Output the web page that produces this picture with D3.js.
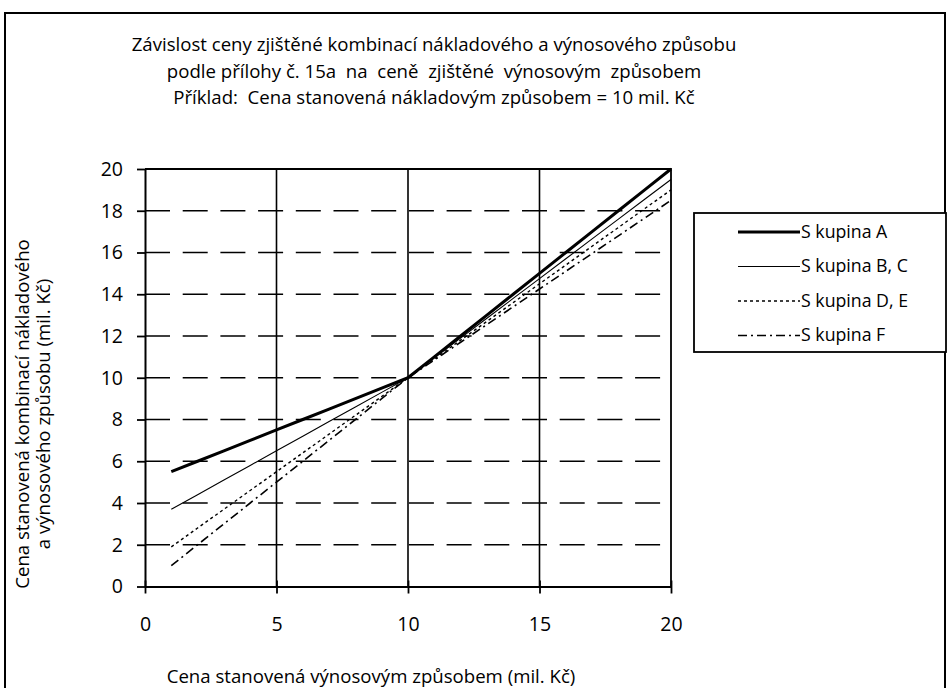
<!DOCTYPE html>
<html><head><meta charset="utf-8">
<script src="https://cdn.jsdelivr.net/npm/d3@7"></script>
<style>
html,body{margin:0;padding:0;background:#fff;}
svg{display:block;font-family:"Open Sans",Lato,sans-serif;}
svg text{white-space:pre;}
</style></head>
<body>
<svg id="c" width="947" height="688"></svg>
<script>
const titleLines = [
  "Závislost ceny zjištěné kombinací nákladového a výnosového způsobu",
  "podle přílohy č. 15a  na  ceně  zjištěné  výnosovým  způsobem",
  "Příklad:  Cena stanovená nákladovým způsobem = 10 mil. Kč"
];
const xLabel = "Cena stanovená výnosovým způsobem (mil. Kč)";
const yLabelLines = ["Cena stanovená kombinací nákladového", "a výnosového způsobu (mil. Kč)"];

const xValues = [1,2,3,4,5,6,7,8,9,10,11,12,13,14,15,16,17,18,19,20];
const seriesA  = [5.5,6.0,6.5,7.0,7.5,8.0,8.5,9.0,9.5,10,11,12,13,14,15,16,17,18,19,20];
const seriesBC = [3.7,4.4,5.1,5.8,6.5,7.2,7.9,8.6,9.3,10,10.95,11.9,12.85,13.8,14.75,15.7,16.65,17.6,18.55,19.5];
const seriesDE = [1.9,2.8,3.7,4.6,5.5,6.4,7.3,8.2,9.1,10,10.9,11.8,12.7,13.6,14.5,15.4,16.3,17.2,18.1,19.0];
const seriesF  = [1.0,2.0,3.0,4.0,5.0,6.0,7.0,8.0,9.0,10,10.85,11.7,12.55,13.4,14.25,15.1,15.95,16.8,17.65,18.5];
const seriesNames = ["S kupina A","S kupina B, C","S kupina D, E","S kupina F"];
const xTicks = [0,5,10,15,20];
const yTicks = [0,2,4,6,8,10,12,14,16,18,20];

const styles = [
  {w:3, dash:null},
  {w:1.1, dash:null},
  {w:1.4, dash:"3,3"},
  {w:1.6, dash:"9,4,2,4"}
];
const allSeries = [seriesA, seriesBC, seriesDE, seriesF];

const svg = d3.select("#c");
const L = 145, R = 671, T = 169, B = 586.5;
const x = d3.scaleLinear().domain([0,20]).range([L,R]);
const y = d3.scaleLinear().domain([0,20]).range([B,T]);

// font size so that the given text element gets the target width
function fitSize(el, target) {
  const w = el.getComputedTextLength();
  const fs = parseFloat(el.getAttribute("font-size"));
  return +(fs * target / w).toFixed(2);
}

// outer frame
svg.append("rect").attr("x",5).attr("y",13).attr("width",940).attr("height",690)
  .attr("fill","none").attr("stroke","#000").attr("stroke-width",2);

// title
const tt = svg.append("g").selectAll("text").data(titleLines).join("text")
  .attr("x",434).attr("y",(d,i)=>51+i*26.5)
  .attr("text-anchor","middle").attr("font-size",16).text(d=>d);
const mainFs = fitSize(tt.node(), 605);
tt.attr("font-size", mainFs);

// horizontal dashed gridlines
svg.append("g").selectAll("line").data(yTicks.filter(v=>v>0&&v<20)).join("line")
  .attr("x1",L).attr("x2",R).attr("y1",d=>y(d)).attr("y2",d=>y(d))
  .attr("stroke","#000").attr("stroke-width",1.3).attr("stroke-dasharray","25,12.7");
// vertical solid gridlines
svg.append("g").selectAll("line").data(xTicks.filter(v=>v>0&&v<20)).join("line")
  .attr("x1",d=>x(d)).attr("x2",d=>x(d)).attr("y1",T).attr("y2",B)
  .attr("stroke","#000").attr("stroke-width",1.6);
// top & right border
svg.append("path").attr("d",`M${L},${T}H${R}V${B}`).attr("fill","none")
  .attr("stroke","#000").attr("stroke-width",1.8);

// axes
const xAxis = svg.append("g").attr("transform",`translate(0,${B})`)
  .call(d3.axisBottom(x).tickValues(xTicks).tickSize(7).tickPadding(23.5).tickSizeOuter(0));
const yAxis = svg.append("g").attr("transform",`translate(${L},0)`)
  .call(d3.axisLeft(y).tickValues(yTicks).tickSize(8).tickPadding(14).tickSizeOuter(0));
[xAxis,yAxis].forEach(a=>{
  a.select(".domain").attr("stroke","#000").attr("stroke-width",2);
  a.selectAll(".tick line").attr("stroke","#000").attr("stroke-width",1.8);
  a.selectAll("text").attr("font-size",19.5).attr("font-family","'Open Sans',Lato,sans-serif").attr("fill","#000");
});
xAxis.selectAll(".tick line").attr("y1",-6);

// lines
const line = d3.line().x((d,i)=>x(xValues[i])).y(d=>y(d));
svg.append("g").selectAll("path").data(allSeries).join("path")
  .attr("d",d=>line(d)).attr("fill","none").attr("stroke","#000")
  .attr("stroke-width",(d,i)=>styles[i].w)
  .attr("stroke-dasharray",(d,i)=>styles[i].dash)
  .attr("stroke-linejoin","round");

// legend
svg.append("rect").attr("x",694).attr("y",213).attr("width",252).attr("height",139)
  .attr("fill","#fff").attr("stroke","#000").attr("stroke-width",1.8);
const lg = svg.append("g").selectAll("g").data(seriesNames).join("g")
  .attr("transform",(d,i)=>`translate(0,${232+i*34.5})`);
lg.append("line").attr("x1",738).attr("x2",800).attr("y1",0).attr("y2",0)
  .attr("stroke","#000").attr("stroke-width",(d,i)=>styles[i].w)
  .attr("stroke-dasharray",(d,i)=>styles[i].dash);
const lt = lg.append("text").attr("x",801).attr("y",5.5).attr("font-size",15).text(d=>d);
lt.attr("font-size", fitSize(lt.nodes()[1], 107));

// axis titles
svg.append("text").attr("x",371).attr("y",683).attr("text-anchor","middle")
  .attr("font-size",mainFs).text(xLabel);
svg.append("g").selectAll("text").data(yLabelLines).join("text")
  .attr("transform",(d,i)=>`translate(${29+i*21},414) rotate(-90)`)
  .attr("text-anchor","middle").attr("font-size",mainFs).text(d=>d);
</script>
</body></html>
